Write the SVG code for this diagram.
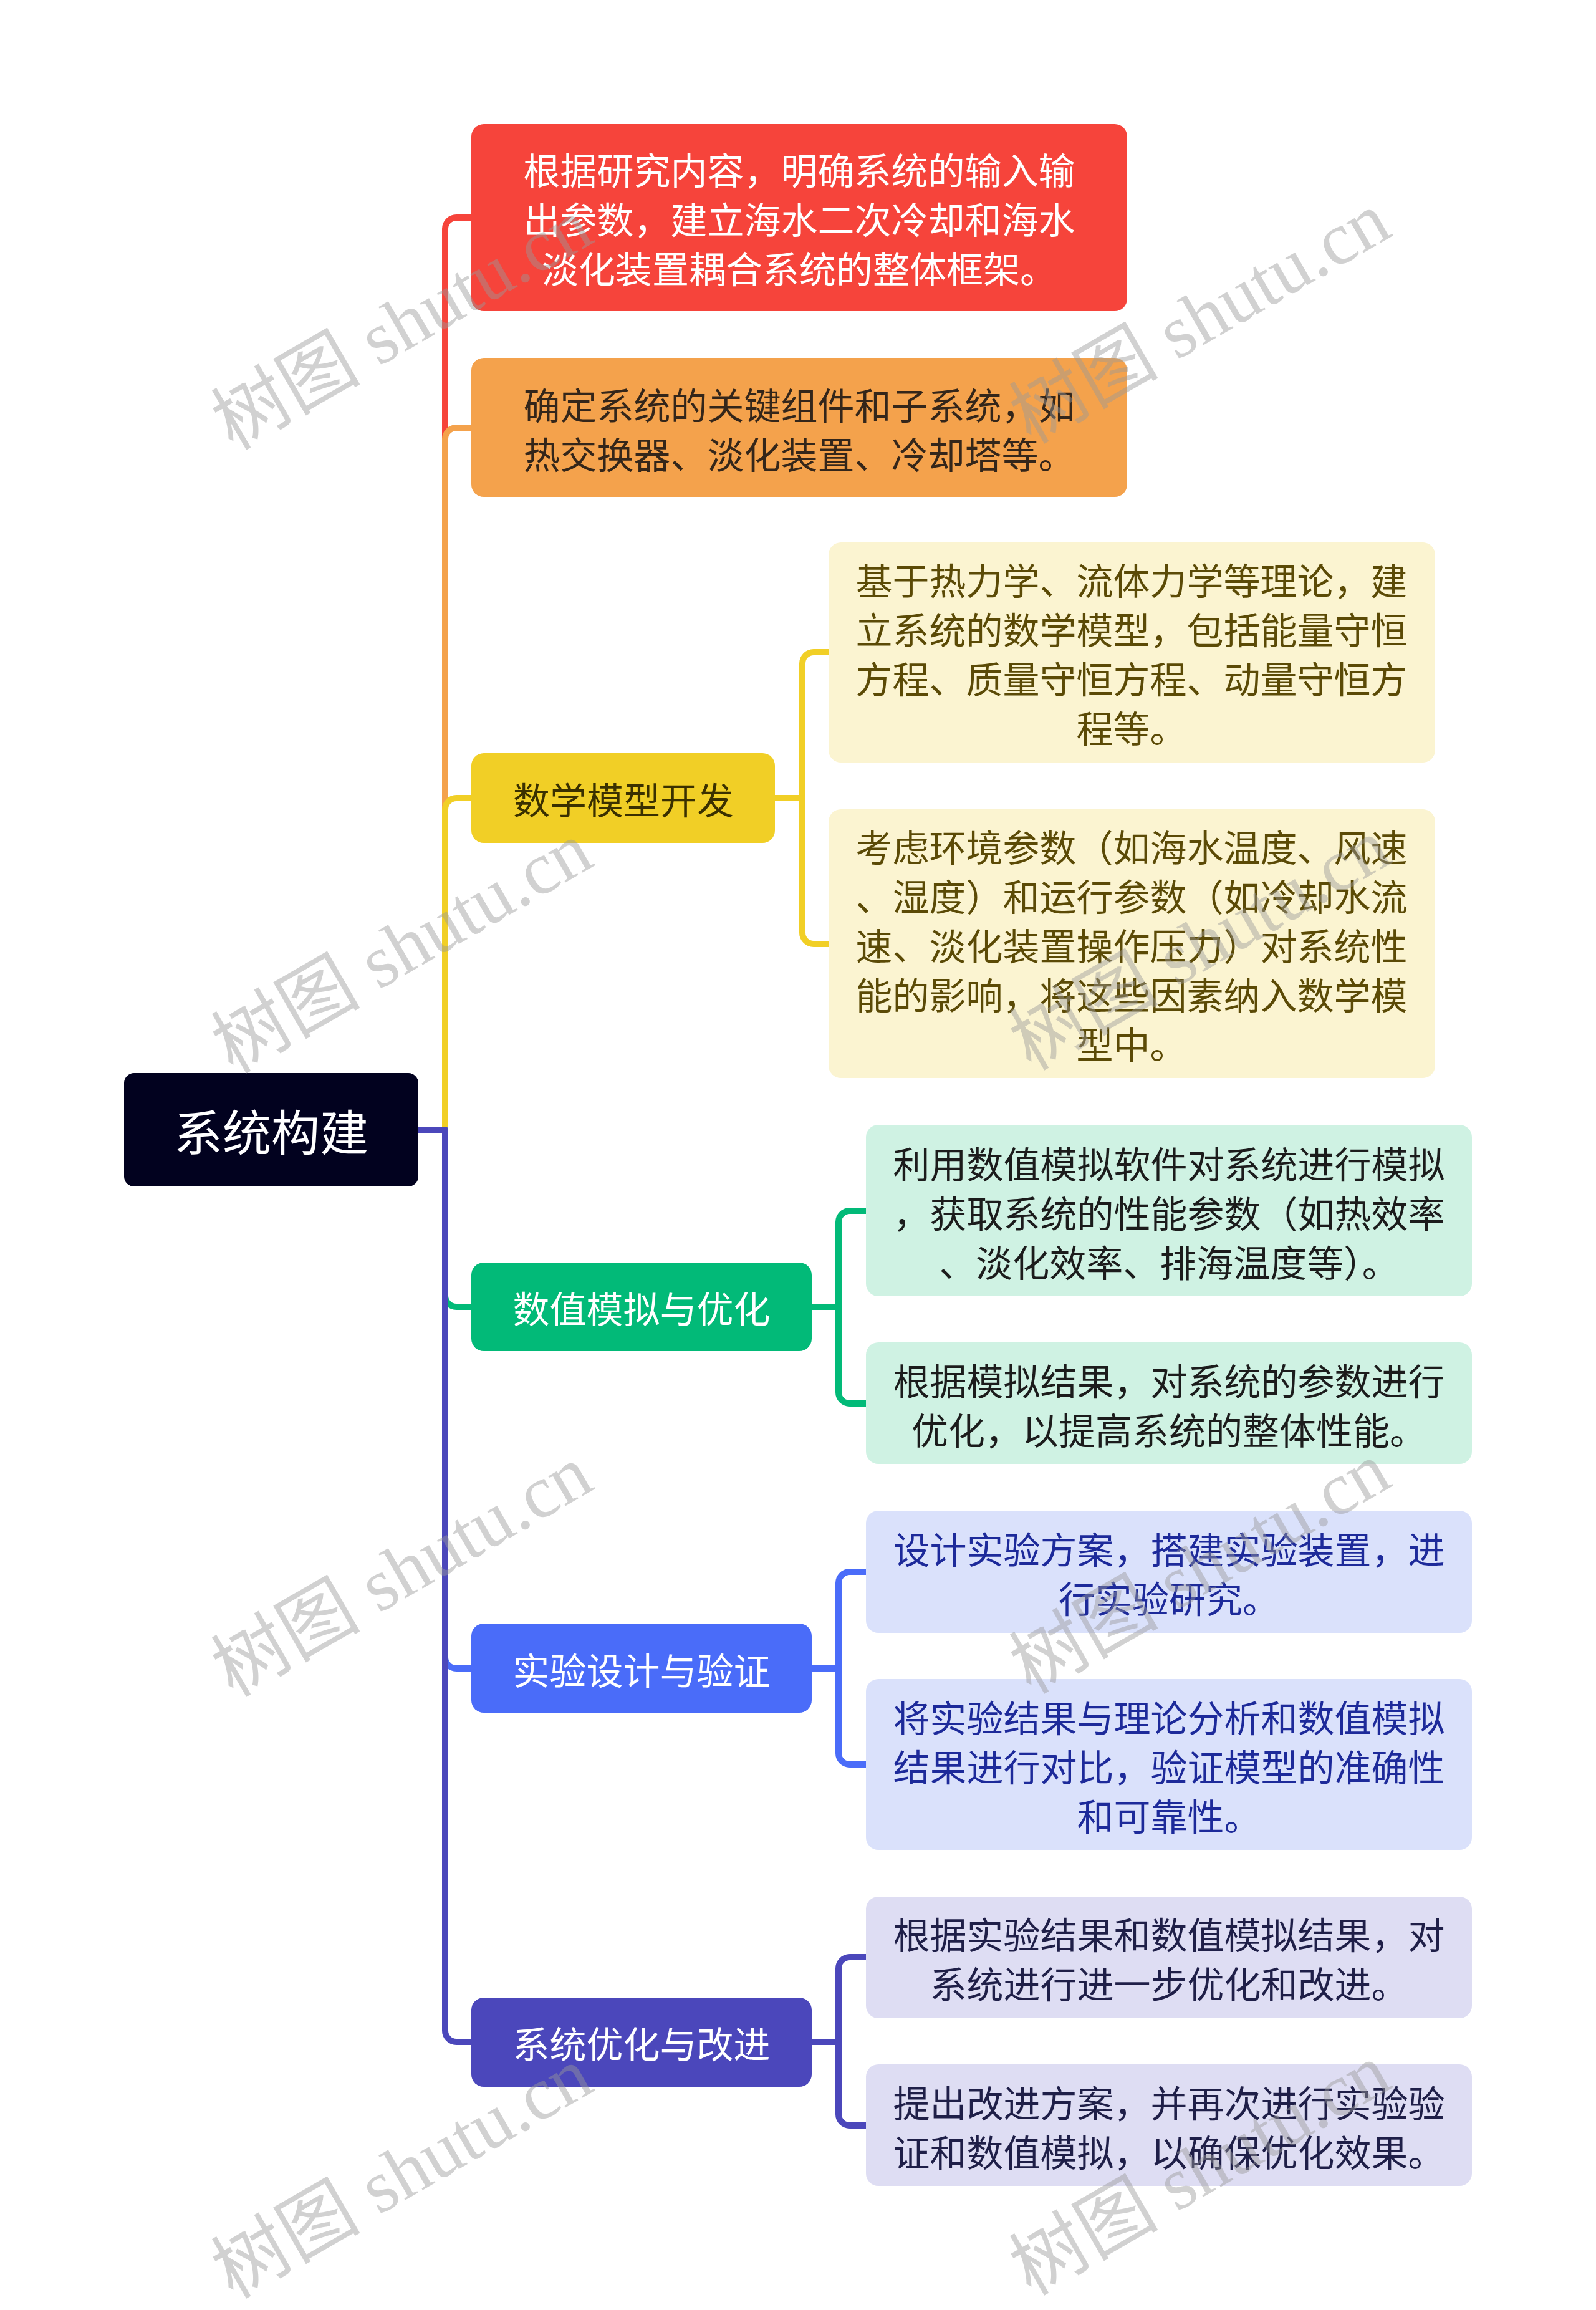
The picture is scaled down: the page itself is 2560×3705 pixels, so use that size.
<svg xmlns="http://www.w3.org/2000/svg" width="2560" height="3705" viewBox="0 0 2560 3705">
<style>
text{font-family:"Noto Sans CJK SC","Liberation Sans",sans-serif;dominant-baseline:central;text-anchor:middle}
.t{font-size:59px}
.root{font-size:78px;fill:#ffffff}
.w{fill:#ffffff}
.c{fill:none;stroke-width:10;stroke-linejoin:round}
.wm{font-family:"Liberation Serif","Noto Sans CJK SC",serif;font-size:120px;fill:#999999;fill-opacity:0.45;text-anchor:middle;dominant-baseline:auto}
</style>
<rect width="2560" height="3705" fill="#ffffff"/>
<g id="connectors">
<path class="c" stroke="#F6443B" d="M671,1812 H714 V367 A18 18 0 0 1 732,349 H756"/>
<path class="c" stroke="#F4A24C" d="M671,1812 H714 V704 A18 18 0 0 1 732,686 H756"/>
<path class="c" stroke="#F1CF26" d="M671,1812 H714 V1298 A18 18 0 0 1 732,1280 H756"/>
<path class="c" stroke="#02BA78" d="M671,1812 H714 V2078 A18 18 0 0 0 732,2096 H756"/>
<path class="c" stroke="#4A6CF9" d="M671,1812 H714 V2658 A18 18 0 0 0 732,2676 H756"/>
<path class="c" stroke="#4B47BB" d="M671,1812 H714 V3257 A18 18 0 0 0 732,3275 H756"/>
<path class="c" stroke="#F1CF26" d="M1243,1280 H1287 V1064 A18 18 0 0 1 1305,1046 H1329"/>
<path class="c" stroke="#F1CF26" d="M1243,1280 H1287 V1496 A18 18 0 0 0 1305,1514 H1329"/>
<path class="c" stroke="#02BA78" d="M1302,2096 H1345 V1960 A18 18 0 0 1 1363,1942 H1389"/>
<path class="c" stroke="#02BA78" d="M1302,2096 H1345 V2233 A18 18 0 0 0 1363,2251 H1389"/>
<path class="c" stroke="#4A6CF9" d="M1302,2676 H1345 V2539 A18 18 0 0 1 1363,2521 H1389"/>
<path class="c" stroke="#4A6CF9" d="M1302,2676 H1345 V2812 A18 18 0 0 0 1363,2830 H1389"/>
<path class="c" stroke="#4B47BB" d="M1302,3275 H1345 V3157 A18 18 0 0 1 1363,3139 H1389"/>
<path class="c" stroke="#4B47BB" d="M1302,3275 H1345 V3391 A18 18 0 0 0 1363,3409 H1389"/>
</g>
<g id="root">
<rect x="199" y="1721" width="472" height="182" rx="16" fill="#02021F"/>
<text class="root" x="435" y="1812">系统构建</text>
</g>
<g id="n1">
<rect x="756" y="199" width="1052" height="300" rx="20" fill="#F6443B"/>
<text class="t w" x="1282" y="270">根据研究内容，明确系统的输入输</text>
<text class="t w" x="1282" y="349">出参数，建立海水二次冷却和海水</text>
<text class="t w" x="1282" y="428">淡化装置耦合系统的整体框架。</text>
</g>
<g id="n2">
<rect x="756" y="574" width="1052" height="223" rx="20" fill="#F4A24C"/>
<text class="t" fill="#34261a" x="1282" y="647">确定系统的关键组件和子系统，如</text>
<text class="t" fill="#34261a" x="1282" y="726">热交换器、淡化装置、冷却塔等。</text>
</g>
<g id="n3">
<rect x="756" y="1208" width="487" height="144" rx="20" fill="#F1CF26"/>
<text class="t" fill="#3a3000" x="1000" y="1280">数学模型开发</text>
</g>
<g id="n3a">
<rect x="1329" y="870" width="973" height="353" rx="20" fill="#FBF4D1"/>
<text class="t" fill="#5b4a06" x="1815" y="928">基于热力学、流体力学等理论，建</text>
<text class="t" fill="#5b4a06" x="1815" y="1007">立系统的数学模型，包括能量守恒</text>
<text class="t" fill="#5b4a06" x="1815" y="1086">方程、质量守恒方程、动量守恒方</text>
<text class="t" fill="#5b4a06" x="1815" y="1165">程等。</text>
</g>
<g id="n3b">
<rect x="1329" y="1298" width="973" height="431" rx="20" fill="#FBF4D1"/>
<text class="t" fill="#5b4a06" x="1815" y="1356">考虑环境参数（如海水温度、风速</text>
<text class="t" fill="#5b4a06" x="1815" y="1435">、湿度）和运行参数（如冷却水流</text>
<text class="t" fill="#5b4a06" x="1815" y="1514">速、淡化装置操作压力）对系统性</text>
<text class="t" fill="#5b4a06" x="1815" y="1593">能的影响，将这些因素纳入数学模</text>
<text class="t" fill="#5b4a06" x="1815" y="1672">型中。</text>
</g>
<g id="n4">
<rect x="756" y="2025" width="546" height="142" rx="20" fill="#02BA78"/>
<text class="t w" x="1029" y="2096">数值模拟与优化</text>
</g>
<g id="n4a">
<rect x="1389" y="1804" width="972" height="275" rx="20" fill="#CFF2E3"/>
<text class="t" fill="#1c1c1c" x="1875" y="1864">利用数值模拟软件对系统进行模拟</text>
<text class="t" fill="#1c1c1c" x="1875" y="1943">，获取系统的性能参数（如热效率</text>
<text class="t" fill="#1c1c1c" x="1875" y="2022">、淡化效率、排海温度等）。</text>
</g>
<g id="n4b">
<rect x="1389" y="2153" width="972" height="195" rx="20" fill="#CFF2E3"/>
<text class="t" fill="#1c1c1c" x="1875" y="2212">根据模拟结果，对系统的参数进行</text>
<text class="t" fill="#1c1c1c" x="1875" y="2291">优化，以提高系统的整体性能。</text>
</g>
<g id="n5">
<rect x="756" y="2604" width="546" height="143" rx="20" fill="#4A6CF9"/>
<text class="t w" x="1029" y="2676">实验设计与验证</text>
</g>
<g id="n5a">
<rect x="1389" y="2423" width="972" height="196" rx="20" fill="#DAE1FB"/>
<text class="t" fill="#1d2a9a" x="1875" y="2482">设计实验方案，搭建实验装置，进</text>
<text class="t" fill="#1d2a9a" x="1875" y="2561">行实验研究。</text>
</g>
<g id="n5b">
<rect x="1389" y="2693" width="972" height="274" rx="20" fill="#DAE1FB"/>
<text class="t" fill="#1d2a9a" x="1875" y="2752">将实验结果与理论分析和数值模拟</text>
<text class="t" fill="#1d2a9a" x="1875" y="2831">结果进行对比，验证模型的准确性</text>
<text class="t" fill="#1d2a9a" x="1875" y="2910">和可靠性。</text>
</g>
<g id="n6">
<rect x="756" y="3204" width="546" height="143" rx="20" fill="#4B47BB"/>
<text class="t w" x="1029" y="3275">系统优化与改进</text>
</g>
<g id="n6a">
<rect x="1389" y="3042" width="972" height="195" rx="20" fill="#DEDDF3"/>
<text class="t" fill="#1f1f48" x="1875" y="3100">根据实验结果和数值模拟结果，对</text>
<text class="t" fill="#1f1f48" x="1875" y="3179">系统进行进一步优化和改进。</text>
</g>
<g id="n6b">
<rect x="1389" y="3311" width="972" height="195" rx="20" fill="#DEDDF3"/>
<text class="t" fill="#1f1f48" x="1875" y="3370">提出改进方案，并再次进行实验验</text>
<text class="t" fill="#1f1f48" x="1875" y="3449">证和数值模拟，以确保优化效果。</text>
</g>
<g id="watermarks">
<text class="wm" x="665" y="555" transform="rotate(-30 665 555)">树图 shutu.cn</text>
<text class="wm" x="1945" y="545" transform="rotate(-30 1945 545)">树图 shutu.cn</text>
<text class="wm" x="665" y="1555" transform="rotate(-30 665 1555)">树图 shutu.cn</text>
<text class="wm" x="1945" y="1550" transform="rotate(-30 1945 1550)">树图 shutu.cn</text>
<text class="wm" x="665" y="2555" transform="rotate(-30 665 2555)">树图 shutu.cn</text>
<text class="wm" x="1945" y="2550" transform="rotate(-30 1945 2550)">树图 shutu.cn</text>
<text class="wm" x="665" y="3520" transform="rotate(-30 665 3520)">树图 shutu.cn</text>
<text class="wm" x="1945" y="3515" transform="rotate(-30 1945 3515)">树图 shutu.cn</text>
</g>
</svg>
